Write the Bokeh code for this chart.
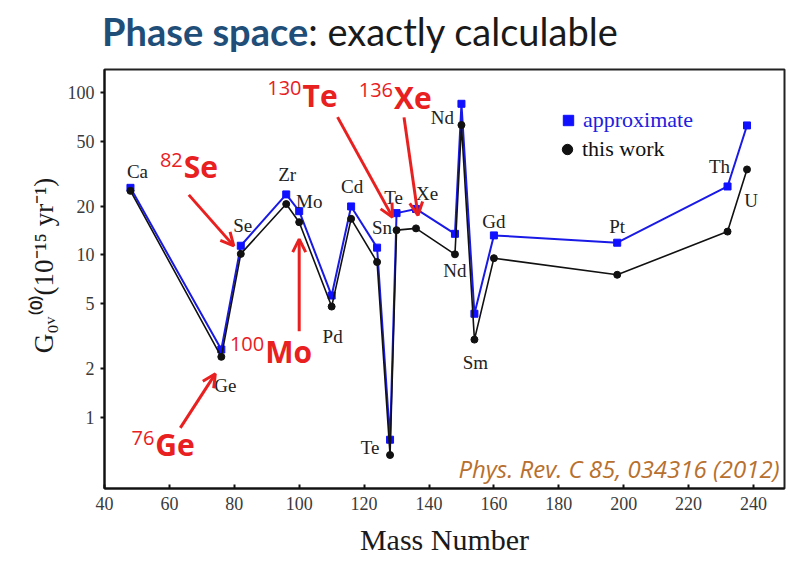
import math
from bokeh.plotting import figure
from bokeh.layouts import column
from bokeh.models import (Range1d, FixedTicker, Label, Arrow, OpenHead, Legend,
                          LegendItem, ColumnDataSource, PrintfTickFormatter, Div)
from bokeh.core.properties import value
from bokeh.embed import file_html
from bokeh.resources import INLINE

# ---------------- data ----------------
elements = ["Ca", "Ge", "Se", "Zr", "Mo", "Pd", "Cd", "Sn", "Te", "Te",
            "Xe", "Nd", "Nd", "Sm", "Gd", "Pt", "Th", "U"]
mass_numbers = [48, 76, 82, 96, 100, 110, 116, 124, 128, 130,
                136, 148, 150, 154, 160, 198, 232, 238]
g_this_work = [24.81, 2.363, 10.16, 20.58, 15.92, 4.815, 16.70, 9.047, 0.5878, 14.22,
               14.58, 10.10, 63.03, 3.015, 9.559, 7.556, 13.93, 33.61]
g_approximate = [25.9, 2.62, 11.4, 23.6, 18.6, 5.63, 19.9, 11.1, 0.73, 18.1,
                 19.2, 13.5, 85.2, 4.35, 13.2, 11.9, 26.4, 62.7]
x_ticks = [40, 60, 80, 100, 120, 140, 160, 180, 200, 220, 240]
y_ticks = [1, 2, 5, 10, 20, 50, 100]
highlight_numbers = ["82", "130", "136", "100", "76"]
highlight_symbols = ["Se", "Te", "Xe", "Mo", "Ge"]
highlight_index = [2, 9, 10, 4, 1]

# ---------------- layout / style (pixels) ----------------
DIV_H = 66
W, H = 788, 497
BL, BR, BT, BB = 104, 4, 3, 75
FRAME_W, FRAME_H = W - BL - BR, H - BT - BB
X0, X1 = 40, 40 + FRAME_W / 3.245
Y0, Y1 = 0.3657, 138.5
XS = FRAME_W / (X1 - X0)
LOG_PX = FRAME_H / (math.log10(Y1) - math.log10(Y0))

# element label offsets from the "this work" point (dx right, dy down), px
label_dx = [7, 4, 2, 1, 10, 1, 1, 5, -20, -3, 11, 0, -19, 1, 0, 0, -8, 4]
label_dy = [-19, 29, -28, -30, -21, 30, -32, -35, -8, -33, -35, 16, -8, 23, -37, -48, -65, 31]
# red arrows: tip and tail offsets from the target point, px
tip_off = [(-7, -8), (-4, -13), (2, -13), (0, 17), (-6, 17)]
tail_off = [(-52, -59), (-59, -113), (-12, -111), (0, 109), (-41, 71)]
# red labels: symbol left / baseline offsets from target point, px
hl_off = [(-57, -87), (-94, -135), (-22, -131), (-34, 129), (-66, 88)]
NUM_DX, NUM_DY = -1, -7

RED = "#e8201f"
BLUE = "#1a1ae6"
SERIF = "Liberation Serif"


def shift(ax, val, dx, dy):
    return ax + dx / XS, val * 10 ** (-dy / LOG_PX)


def page_pt(px, py):
    cy = py - DIV_H
    return X0 + (px - BL) / XS, 10 ** (math.log10(Y1) - (cy - BT) / LOG_PX)


p = figure(width=W, height=H, output_backend="svg", toolbar_location=None,
           y_axis_type="log", x_range=Range1d(X0, X1), y_range=Range1d(Y0, Y1),
           min_border_left=BL, min_border_right=BR, min_border_top=BT, min_border_bottom=BB,
           title=None, margin=(0, 0, 0, 0))
p.background_fill_color = "white"
p.border_fill_color = "white"
p.outline_line_color = "#222222"
p.outline_line_width = 2
p.xgrid.visible = False
p.ygrid.visible = False

for ax in (p.xaxis, p.yaxis):
    ax.axis_line_color = "#111111"
    ax.axis_line_width = 2
    ax.major_tick_line_color = "#111111"
    ax.major_tick_line_width = 2
    ax.minor_tick_line_color = None
    ax.major_label_text_font = SERIF
    ax.major_label_text_font_size = "18px"
    ax.major_label_text_color = "#3a3a3a"
    ax.axis_label_text_font = SERIF
    ax.axis_label_text_font_style = "normal"
    ax.axis_label_text_color = "#1a1a1a"
p.xaxis.ticker = FixedTicker(ticks=x_ticks)
p.xaxis.major_tick_in = 4
p.xaxis.major_tick_out = 0
p.xaxis.major_label_standoff = 8
p.xaxis.axis_label = "Mass Number"
p.xaxis.axis_label_text_font_size = "30px"
p.xaxis.axis_label_standoff = 10
p.yaxis.ticker = FixedTicker(ticks=y_ticks)
p.yaxis.formatter = PrintfTickFormatter(format="%d")
p.yaxis.major_tick_in = 0
p.yaxis.major_tick_out = 4
p.yaxis.major_label_standoff = 6
p.yaxis.axis_label = "\u2003G\u2080\u1d65\u207d\u2070\u207e(10\u207b\u00b9\u2075 yr\u207b\u00b9)"
p.yaxis.axis_label_text_font_size = "27px"
p.yaxis.axis_label_standoff = 6

src = ColumnDataSource(dict(x=mass_numbers, a=g_approximate, t=g_this_work))
p.line("x", "a", source=src, line_color=BLUE, line_width=2)
r_approx = p.scatter("x", "a", source=src, marker="square", size=7, fill_color="#1010ff",
                     line_color="#1010ff")
p.line("x", "t", source=src, line_color="#111111", line_width=1.6)
r_this = p.scatter("x", "t", source=src, marker="circle", size=7, fill_color="#111111",
                   line_color="#111111")

# element labels
lx, ly = [], []
for a, v, dx, dy in zip(mass_numbers, g_this_work, label_dx, label_dy):
    x, y = shift(a, v, dx, dy)
    lx.append(x)
    ly.append(y)
p.text(x=lx, y=ly, text=elements, text_font=value(SERIF), text_font_size="19px",
       text_color="#222222", text_align="center", text_baseline="middle")

# red highlights
for num, sym, idx, tip, tail, off in zip(highlight_numbers, highlight_symbols, highlight_index,
                                         tip_off, tail_off, hl_off):
    a, v = mass_numbers[idx], g_this_work[idx]
    xe, ye = shift(a, v, *tip)
    xs, ys = shift(a, v, *tail)
    p.add_layout(Arrow(end=OpenHead(size=13, line_color=RED, line_width=3),
                       x_start=xs, y_start=ys, x_end=xe, y_end=ye,
                       line_color=RED, line_width=3))
    sx, sy = shift(a, v, off[0], off[1])
    p.add_layout(Label(x=sx, y=sy, text=sym, text_font="Open Sans", text_font_style="bold",
                       text_font_size="30px", text_color=RED, text_align="left",
                       text_baseline="alphabetic"))
    nx, ny = shift(a, v, off[0] + NUM_DX, off[1] + NUM_DY)
    p.add_layout(Label(x=nx, y=ny, text=num, text_font="Open Sans",
                       text_font_size="20px", text_color=RED, text_align="right",
                       text_baseline="alphabetic"))

# legends (two, so each label keeps its colour)
leg1 = Legend(items=[LegendItem(label="approximate", renderers=[r_approx])],
              location=(451, 355), label_text_color="#2020dd")
leg2 = Legend(items=[LegendItem(label="this work", renderers=[r_this])],
              location=(450, 326), label_text_color="#111111")
for lg in (leg1, leg2):
    lg.label_text_font = SERIF
    lg.label_text_font_size = "22px"
    lg.glyph_width = 26
    lg.glyph_height = 26
    lg.label_standoff = 2
    lg.padding = 0
    lg.margin = 0
    lg.border_line_color = None
    lg.background_fill_alpha = 0
    p.add_layout(lg)

# citation
cx, cy = page_pt(779, 468)
p.add_layout(Label(x=cx, y=cy, text="Phys. Rev. C 85, 034316 (2012)", text_font="Open Sans",
                   text_font_style="italic", text_font_size="24px", text_color="#b8702e",
                   text_align="right", text_baseline="alphabetic"))

title = Div(
    text=('<div style="font-family:Lato;font-size:38px;line-height:38px;'
          'padding-left:102px;padding-top:12px;white-space:nowrap;">'
          '<span style="font-weight:bold;color:#1f4e79;">Phase space</span>'
          '<span style="color:#1a1a1a;">: exactly calculable</span></div>'),
    width=W, height=DIV_H, margin=(0, 0, 0, 0))

layout = column(title, p, spacing=0, margin=(0, 0, 0, 0))
open("out.html", "w").write(file_html(layout, INLINE))
